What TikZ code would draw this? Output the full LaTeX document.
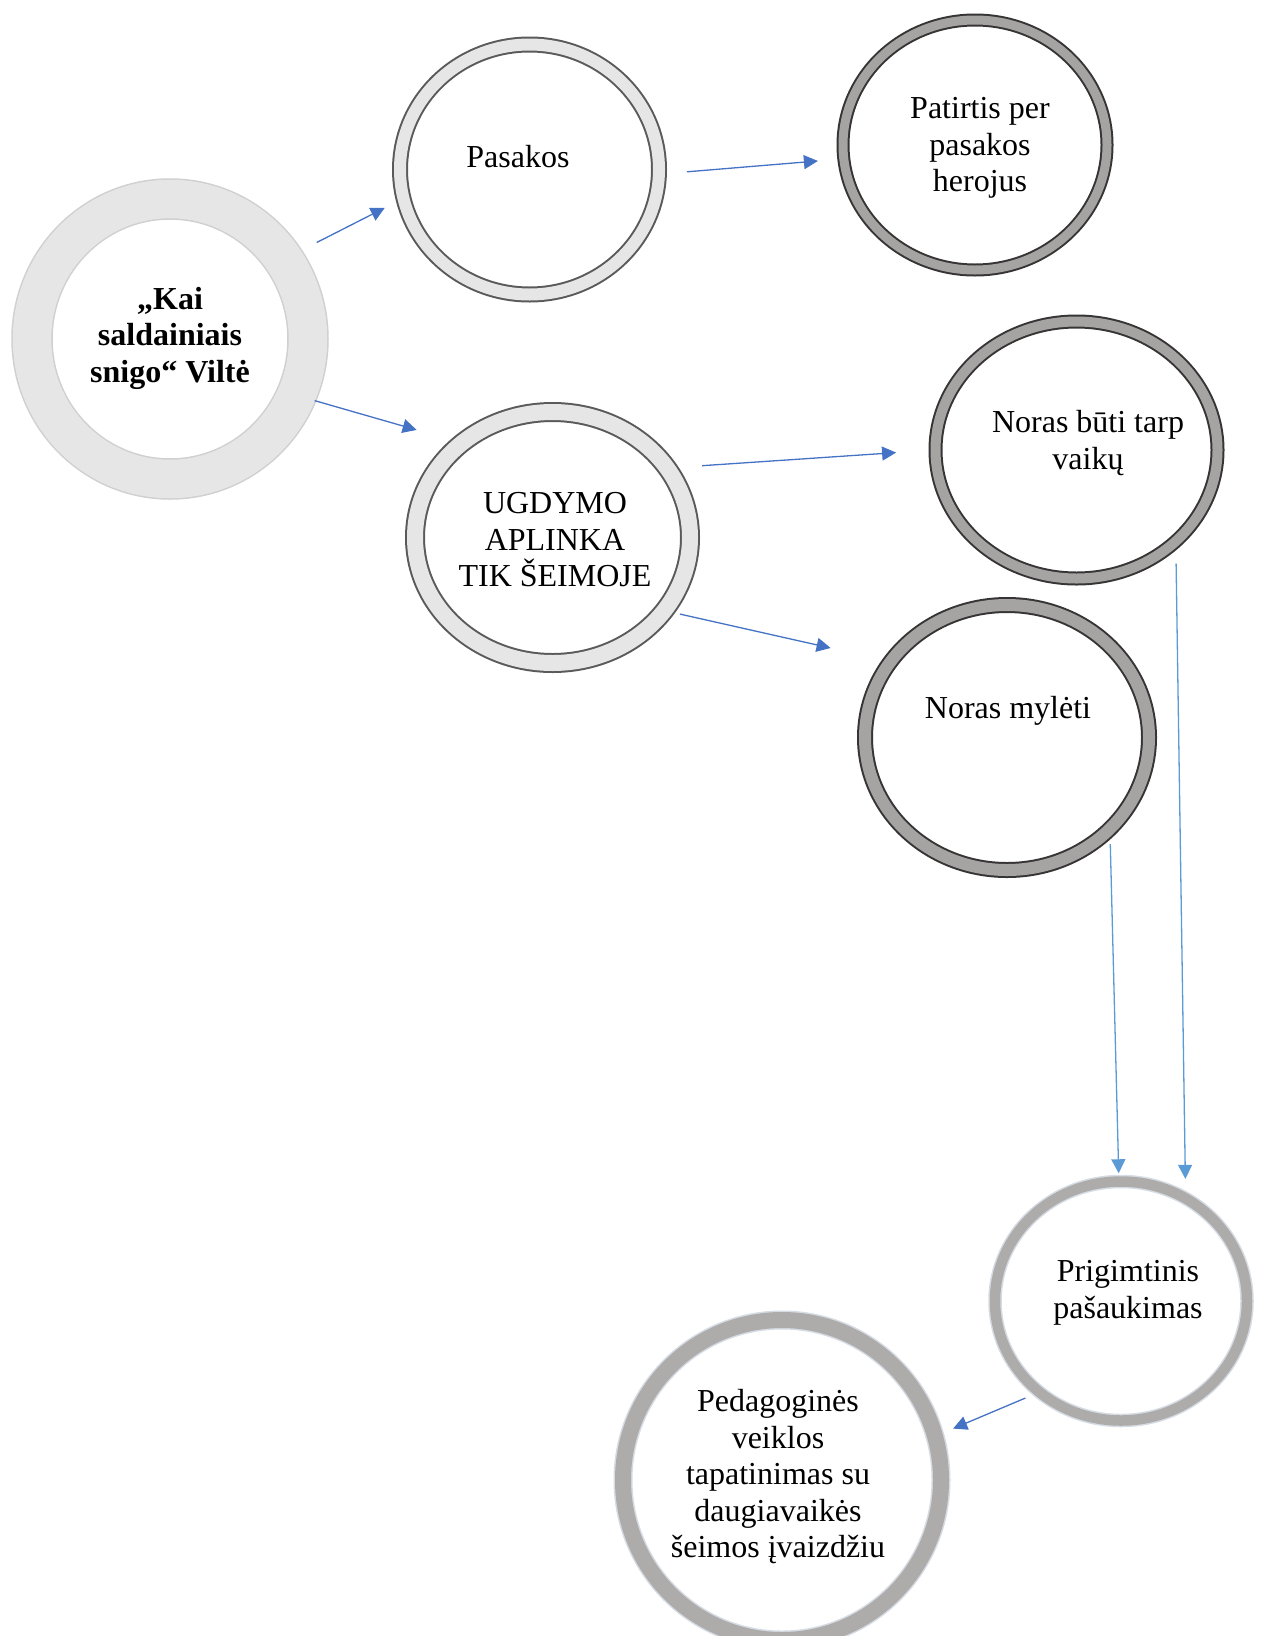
\documentclass[tikz,border=0pt]{standalone}
\usepackage{fontspec}
\setmainfont{Liberation Serif}
\usetikzlibrary{shapes.geometric,arrows.meta}

\definecolor{ringpale}{HTML}{E7E6E6}
\definecolor{ringdark}{HTML}{A6A3A3}
\definecolor{ringgrey}{HTML}{AEABAB}
\definecolor{edgepale}{HTML}{D0D0D0}
\definecolor{edgegrey}{HTML}{5A5A5A}
\definecolor{edgedark}{HTML}{363434}
\definecolor{edgeblue}{HTML}{D5DCE4}
\definecolor{arrowblue}{HTML}{4472C4}
\definecolor{arrowsky}{HTML}{5B9BD5}

\begin{document}
\begin{tikzpicture}[x=1pt,y=-1pt,
  ring/.style={ellipse, inner sep=0pt, fill=white},
  paleedge/.style={ring, draw=edgepale, double=ringpale, line width=1.5pt},
  greyedge/.style={ring, draw=edgegrey, double=ringpale, line width=2pt},
  darkedge/.style={ring, draw=edgedark, double=ringdark, line width=2pt},
  blueedge/.style={ring, draw=edgeblue, double=ringgrey, line width=1.5pt},
  txt/.style={align=center, inner sep=0pt, font=\fontsize{32}{36.5}\selectfont},
  arr/.style={draw=arrowblue, line width=1.3pt, -{Triangle[length=14pt,width=14pt]}},
  arrsky/.style={arr, draw=arrowsky}]
\useasboundingbox (0,0) rectangle (1262,1636);

% rings
\node[paleedge, double distance=38.5pt, minimum width=276pt, minimum height=280pt] (vilte) at (170,339) {};
\node[greyedge, double distance=12pt, minimum width=259pt, minimum height=250pt] (pasakos) at (529.5,169.5) {};
\node[darkedge, double distance=9pt, minimum width=264pt, minimum height=250pt] (patirtis) at (975,145) {};
\node[greyedge, double distance=16pt, minimum width=275pt, minimum height=251pt] (ugdymas) at (552.5,537.5) {};
\node[darkedge, double distance=10pt, minimum width=282pt, minimum height=257pt] (buti) at (1076.5,450) {};
\node[darkedge, double distance=12pt, minimum width=284pt, minimum height=265pt] (myleti) at (1007,737.5) {};
\node[blueedge, double distance=10.5pt, minimum width=252pt, minimum height=239pt] (prigimtis) at (1121,1301) {};
\node[blueedge, double distance=16pt, minimum width=318pt, minimum height=320pt] (pedagog) at (782,1480) {};

% texts
\node[txt, font=\fontsize{32}{36.5}\selectfont\bfseries] (tvilte) at (170,338) {„Kai\\saldainiais\\snigo“ Viltė};
\node[txt] (tpasakos) at (518,157) {Pasakos};
\node[txt] (tpatirtis) at (980,148) {Patirtis per\\pasakos\\herojus};
\node[txt] (tugdymas) at (555,540) {UGDYMO\\APLINKA\\TIK ŠEIMOJE};
\node[txt] (tbuti) at (1088,443) {Noras būti tarp\\vaikų};
\node[txt] (tmyleti) at (1008,711) {Noras mylėti};
\node[txt] (tprigimtis) at (1128,1293) {Prigimtinis\\pašaukimas};
\node[txt] (tpedagog) at (778,1477) {Pedagoginės\\veiklos\\tapatinimas su\\daugiavaikės\\šeimos įvaizdžiu};

% arrows
\draw[arr, shorten <=36.5pt, shorten >=20pt] (vilte.35.3) -- (pasakos.193.8);
\draw[arr, shorten <=18.3pt, shorten >=46pt] (vilte.-24.9) -- (ugdymas.134.1);
\draw[arr, shorten <=27pt, shorten >=25pt] (pasakos.-2) -- (patirtis.186.6);
\draw[arr, shorten <=34pt, shorten >=38.5pt] (ugdymas.31.2) -- (buti.180.7);
\draw[arr, shorten <=15pt, shorten >=60.5pt] (ugdymas.-33.8) -- (myleti.147.1);
\draw[arrsky, shorten <=14pt, shorten >=7.5pt] (myleti.-42.9) -- (prigimtis.91.3);
\draw[arrsky, shorten <=21pt, shorten >=18.7pt] (buti.-43.2) -- (prigimtis.58.5);
\draw[arr, shorten <=14.4pt, shorten >=19pt] (prigimtis.228.7) -- (pedagog.16.8);
\end{tikzpicture}
\end{document}
